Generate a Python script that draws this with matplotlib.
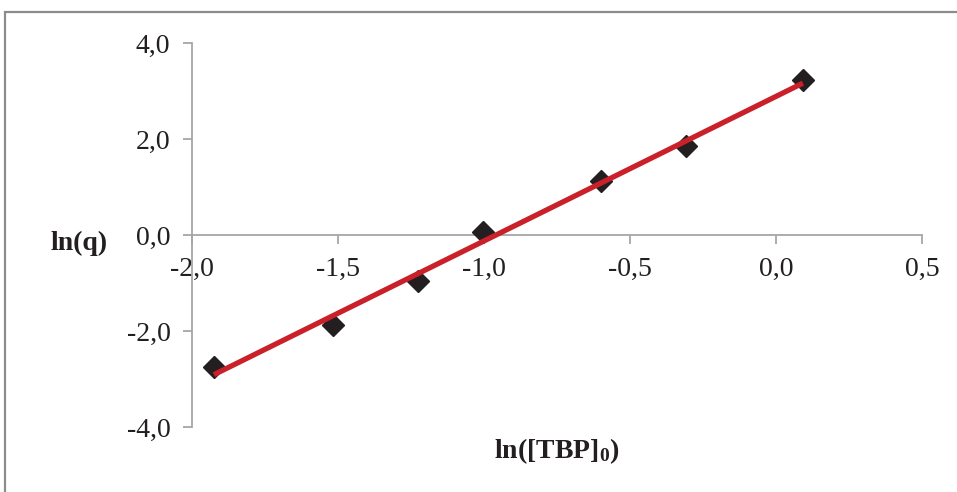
import numpy as np
import matplotlib
matplotlib.use("Agg")
import matplotlib.pyplot as plt
from matplotlib.ticker import FuncFormatter
from matplotlib.patches import Rectangle

# data
ln_tbp = [-1.925, -1.517, -1.226, -1.003, -0.599, -0.308, 0.092]
ln_q = [-2.75, -1.875, -0.96, 0.06, 1.125, 1.85, 3.23]
x_ticks = [-2.0, -1.5, -1.0, -0.5, 0.0, 0.5]
y_ticks = [-4.0, -2.0, 0.0, 2.0, 4.0]

plt.rcParams['font.family'] = ['Liberation Serif', 'DejaVu Serif']
plt.rcParams['axes.unicode_minus'] = False
plt.rcParams['mathtext.fontset'] = 'custom'
plt.rcParams['mathtext.rm'] = 'Liberation Serif'
plt.rcParams['mathtext.bf'] = 'Liberation Serif:bold'

fig = plt.figure(figsize=(9.57, 4.92), dpi=100)
ax = fig.add_axes([192/957, 1-427/492, (922-192)/957, (427-43)/492])

# outer gray frame
fig.patches.append(Rectangle((5/957, -0.05), 1.1, 1-12/492+0.05, transform=fig.transFigure,
                             fill=False, edgecolor='#8c8c8c', linewidth=1.6))

# linear trendline
slope, icpt = np.polyfit(ln_tbp, ln_q, 1)
xs = np.array([min(ln_tbp), max(ln_tbp)])
ax.plot(ln_tbp, ln_q, linestyle='none', marker='D', markersize=11,
        color='#231f20', zorder=3)
ax.plot(xs, slope*xs + icpt, color='#c9202a', linewidth=3.8, zorder=4,
        solid_capstyle='butt')

ax.set_xlim(-2.0, 0.5)
ax.set_ylim(-4.0, 4.0)
ax.set_xticks(x_ticks)
ax.set_yticks(y_ticks)
fmt = FuncFormatter(lambda v, p: f"{v:.1f}".replace('.', ','))
ax.xaxis.set_major_formatter(fmt)
ax.yaxis.set_major_formatter(fmt)

for s in ['top', 'right']:
    ax.spines[s].set_visible(False)
ax.spines['bottom'].set_position(('data', 0))
for s in ['left', 'bottom']:
    ax.spines[s].set_color('#a6a6a6')
    ax.spines[s].set_linewidth(1.3)
ax.tick_params(axis='both', direction='out', length=6.5, width=1.3,
               color='#a6a6a6', labelsize=20, labelcolor='#231f20')
ax.tick_params(axis='x', pad=9)
ax.tick_params(axis='y', pad=9)
ax.patch.set_alpha(0)

fig.text(79/957, 1-243/492, 'ln(q)', fontsize=20, fontweight='bold',
         ha='center', va='center', color='#231f20')
fig.text(557/957, 1-451/492, r'$\mathbf{ln([TBP]_0)}$', fontsize=20,
         ha='center', va='center', color='#231f20')

fig.savefig('out.png', dpi=100)
